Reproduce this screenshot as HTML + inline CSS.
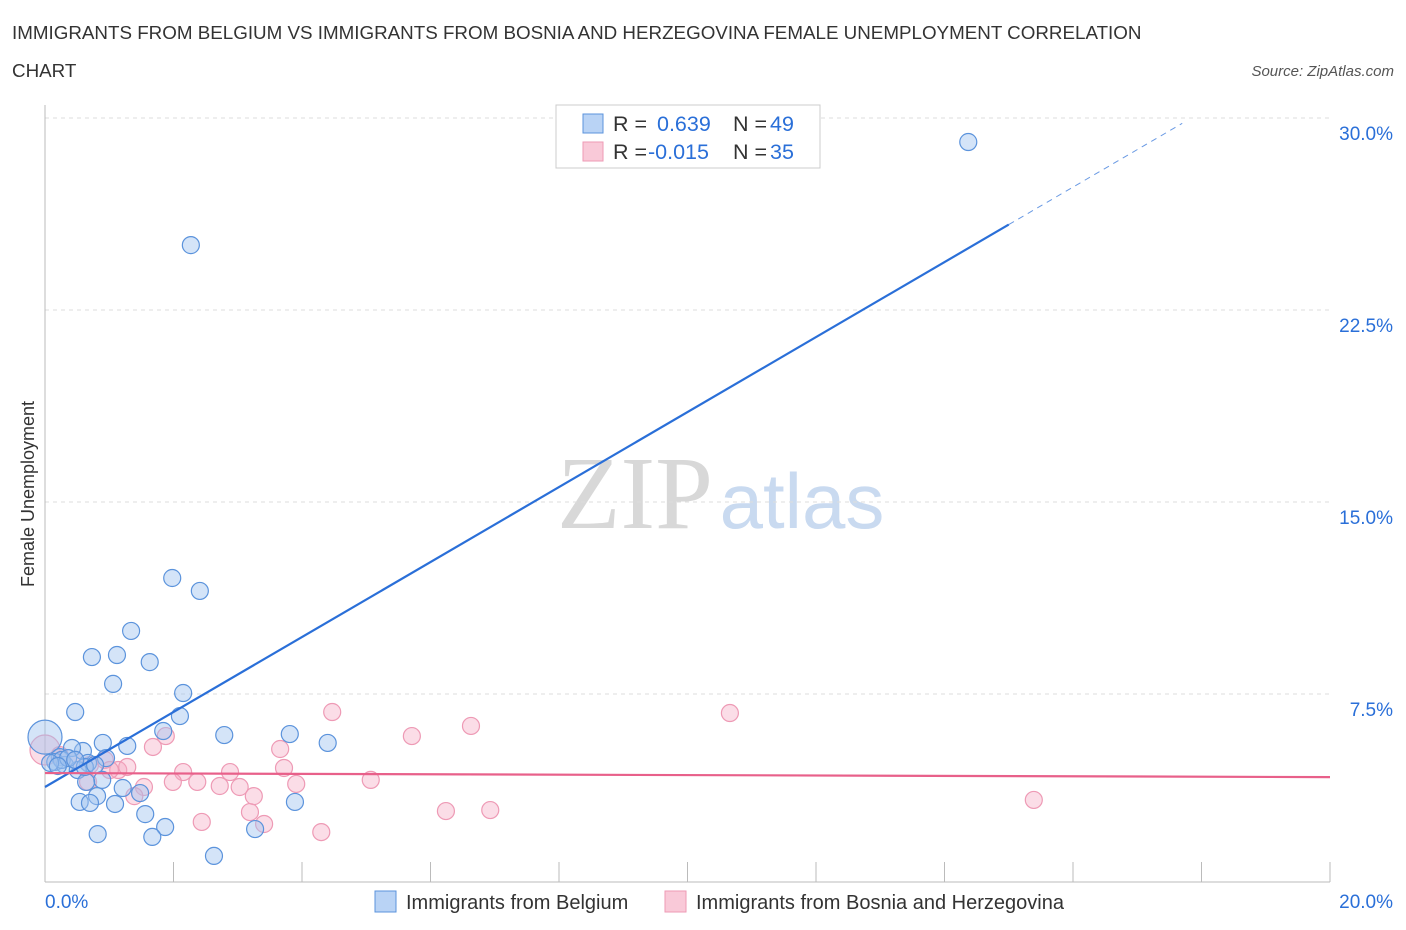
<!DOCTYPE html>
<html><head><meta charset="utf-8"><style>
body{margin:0;background:#fff;font-family:"Liberation Sans",sans-serif;}
svg{display:block}
</style></head><body>
<svg width="1406" height="930" id="c">
<text x="12" y="39" font-size="18.8" fill="#333">IMMIGRANTS FROM BELGIUM VS IMMIGRANTS FROM BOSNIA AND HERZEGOVINA FEMALE UNEMPLOYMENT CORRELATION</text>
<text x="12" y="77" font-size="18.8" fill="#333">CHART</text>
<text x="1394" y="76" font-size="15" fill="#555" font-style="italic" text-anchor="end">Source: ZipAtlas.com</text>
<text x="635" y="528" font-size="104" fill="#d8d8d8" font-family="Liberation Serif,serif" text-anchor="middle">ZIP</text>
<text x="802" y="528" font-size="78" fill="#c9daf0" text-anchor="middle">atlas</text>
<text x="34" y="494" font-size="18" fill="#333" text-anchor="middle" transform="rotate(-90 34 494)">Female Unemployment</text>
<g id="grid"></g><g id="pts"></g><g id="lines"></g>
<rect x="556" y="105" width="264" height="63" fill="#fff" stroke="#ccc"/>
<rect x="583" y="114" width="20" height="19" fill="#b9d3f5" stroke="#5b93dc"/>
<rect x="583" y="142" width="20" height="19" fill="#f9c9d8" stroke="#ee9ab5"/>
<text y="131" font-size="21.5" fill="#333"><tspan x="613">R = </tspan><tspan x="657" fill="#2a6fd8">0.639</tspan><tspan x="733">N = </tspan><tspan x="770" fill="#2a6fd8">49</tspan></text>
<text y="159" font-size="21.5" fill="#333"><tspan x="613">R = </tspan><tspan x="648" fill="#2a6fd8">-0.015</tspan><tspan x="733">N = </tspan><tspan x="770" fill="#2a6fd8">35</tspan></text>
<text x="45" y="908" font-size="19" fill="#2a6fd8">0.0%</text>
<text x="1393" y="908" font-size="19" fill="#2a6fd8" text-anchor="end">20.0%</text>
<rect x="375" y="891" width="21" height="21" fill="#b9d3f5" stroke="#5b93dc"/>
<text x="406" y="909" font-size="20" fill="#333">Immigrants from Belgium</text>
<rect x="665" y="891" width="21" height="21" fill="#f9c9d8" stroke="#ee9ab5"/>
<text x="696" y="909" font-size="20" fill="#333">Immigrants from Bosnia and Herzegovina</text>
</svg>
<script>
const yTicks=[7.5,15,22.5,30];
const yTickLabels=["7.5%","15.0%","22.5%","30.0%"];
const belgiumX=[0,14.37,2.27,1.98,2.41,1.34,0.73,1.12,1.63,1.06,2.15,0.47,2.10,1.84,2.79,3.81,4.40,1.28,0.59,0.42,0.90,0.23,0.95,0.16,0.31,0.67,0.51,0.89,0.64,1.48,1.21,0.81,0.54,0.70,1.09,3.89,1.56,1.87,3.27,0.82,1.67,2.63,0.26,0.36,0.08,0.20,0.62,0.47,0.78];
const belgiumY=[5.72,29.21,25.14,12.0,11.49,9.91,8.88,8.96,8.68,7.82,7.46,6.71,6.55,5.96,5.80,5.84,5.49,5.37,5.17,5.29,5.49,4.93,4.89,4.74,4.62,4.70,4.42,4.03,3.95,3.51,3.71,3.39,3.16,3.12,3.08,3.16,2.68,2.17,2.09,1.89,1.78,1.03,4.82,4.89,4.70,4.58,4.54,4.82,4.62];
const bosniaX=[0,0.23,0.47,0.70,0.93,1.14,1.28,1.68,1.88,2.15,1.99,2.37,1.54,1.39,2.44,2.72,2.88,3.03,3.25,3.19,3.41,3.66,3.72,3.91,4.30,4.47,5.07,5.71,6.24,6.63,6.93,10.66,15.39,0.67,1.01];
const bosniaY=[5.21,5.01,4.82,4.62,4.82,4.42,4.54,5.33,5.76,4.34,3.95,3.95,3.75,3.39,2.37,3.79,4.34,3.75,3.39,2.76,2.29,5.25,4.50,3.87,1.97,6.71,4.03,5.76,2.80,6.16,2.84,6.67,3.24,3.95,4.42];
const belgiumTrend=[3.75,1.48]; // intercept, slope
const bosniaTrend=[4.30,-0.008];
const NS='http://www.w3.org/2000/svg';
const sx=v=>45+v/20*1285, sy=v=>882-v/7.5*190;
const gy=v=>886-v/7.5*192;
function mk(p,t,a){const e=document.createElementNS(NS,t);for(const k in a)e.setAttribute(k,a[k]);p.appendChild(e);return e;}
const grid=document.getElementById('grid');
yTicks.forEach((t,i)=>{
 const l=mk(grid,'line',{x1:45,x2:1330,y1:gy(t),y2:gy(t),stroke:'#ddd','stroke-dasharray':'4,4'});
 
 
 const tx=mk(grid,'text',{x:1393,y:gy(t)+22,'font-size':19,fill:'#2a6fd8','text-anchor':'end'});
 tx.textContent=yTickLabels[i];
 
 
});
const ax=mk(grid,'line',{x1:45,x2:45,y1:105,y2:882,stroke:'#bbb'});


const bx=mk(grid,'line',{x1:45,x2:1330,y1:882,y2:882,stroke:'#bbb'});


for(let i=0;i<=10;i++){const t=mk(grid,'line',{x1:sx(i*2),x2:sx(i*2),y1:862,y2:882,stroke:'#bbb'});
 
 }
const pts=document.getElementById('pts');
bosniaX.forEach((x,i)=>{const c=mk(pts,'circle',{cx:sx(x),cy:sy(bosniaY[i]),r:i==0?15:8.5,fill:'rgba(244,170,195,0.4)',stroke:'#ee9ab5','stroke-width':1.2});
 
 });
belgiumX.forEach((x,i)=>{const c=mk(pts,'circle',{cx:sx(x),cy:sy(belgiumY[i]),r:i==0?17:8.5,fill:'rgba(160,196,240,0.45)',stroke:'#5b93dc','stroke-width':1.2});
 
 });
const lines=document.getElementById('lines');
const f=(tr,x)=>tr[0]+tr[1]*x;
const l1=mk(lines,'line',{x1:sx(0),y1:sy(f(belgiumTrend,0)),x2:sx(15),y2:sy(f(belgiumTrend,15)),stroke:'#2a6fd8','stroke-width':2.2});


const l1d=mk(lines,'line',{x1:sx(15),y1:sy(f(belgiumTrend,15)),x2:sx(17.7),y2:sy(f(belgiumTrend,17.7)),stroke:'#2a6fd8','stroke-width':1,'stroke-dasharray':'6,5',opacity:0.7});


const l2=mk(lines,'line',{x1:sx(0),y1:sy(f(bosniaTrend,0)),x2:sx(20),y2:sy(f(bosniaTrend,20)),stroke:'#e8608a','stroke-width':2.2});


</script>
</body></html>
